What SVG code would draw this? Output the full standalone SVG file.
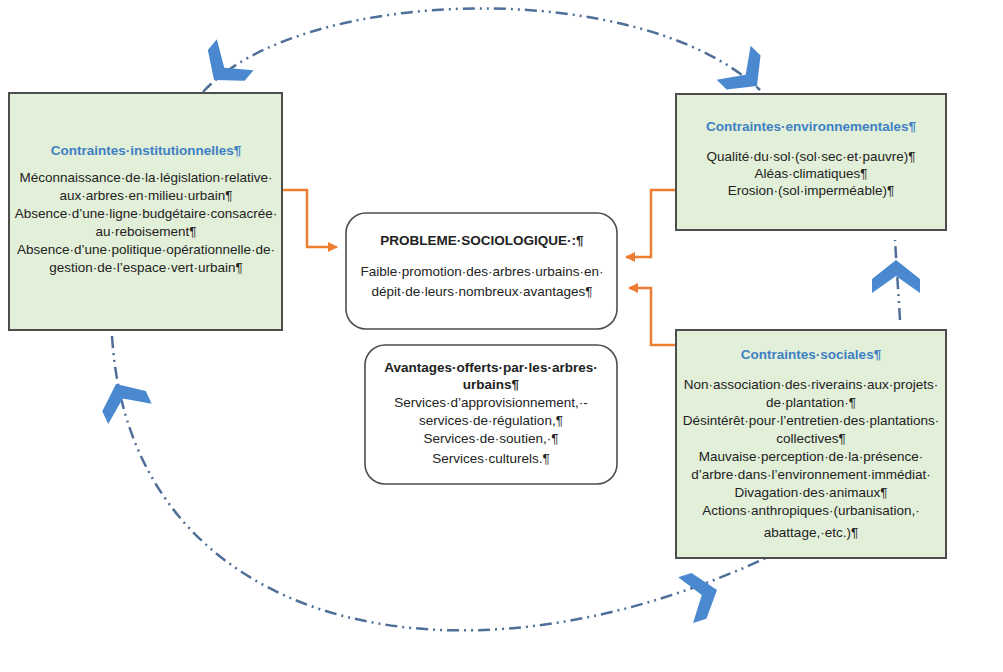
<svg xmlns="http://www.w3.org/2000/svg" width="1003" height="672" viewBox="0 0 1003 672">
<defs>
<style>
.box{fill:#e2efd9;stroke:#4d4d4d;stroke-width:2}
.rbox{fill:#fff;stroke:#4d4d4d;stroke-width:1.6}
text{font-family:"Liberation Sans",Arial,sans-serif;font-size:13.5px;fill:#222;text-anchor:middle}
.t{fill:#3f7fc4;font-weight:bold}
.b{font-weight:bold}
.or{fill:none;stroke:#ed7d31;stroke-width:2.5}
.dd{fill:none;stroke:#4f6f98;stroke-width:2.5;stroke-dasharray:12 5 2 5 2 5}
.chev{fill:#4a89d0}
</style>
<marker id="oa" viewBox="0 0 10 10" refX="9" refY="5" markerWidth="4" markerHeight="4" orient="auto">
<path d="M0,0 L10,5 L0,10 z" fill="#ed7d31"/>
</marker>
<polygon id="chv" points="0,0 -19,-24 -33,-24 -16,0 -33,24 -19,24"/>
</defs>

<g id="connectors">
<path class="or" d="M282,190 H307 V247 H337" marker-end="url(#oa)"/>
<path class="or" d="M676,190 H651 V257 H626" marker-end="url(#oa)"/>
<path class="or" d="M676,345 H651 V288 H629" marker-end="url(#oa)"/>
<path class="dd" d="M203,92 C300,-14 640,-24 760,90"/>
<path class="dd" d="M112,336 C130,628 450,705 768,557"/>
<path class="dd" d="M900,320 L895,240"/>
<use href="#chv" class="chev" transform="translate(214,80) rotate(130)"/>
<use href="#chv" class="chev" transform="translate(757,86) rotate(45)"/>
<use href="#chv" class="chev" transform="translate(896,260) rotate(-90)"/>
<use href="#chv" class="chev" transform="translate(116,384) rotate(-115)"/>
<use href="#chv" class="chev" transform="translate(717,590) rotate(-18)"/>
</g>

<g id="inst">
<rect class="box" x="9" y="93" width="273" height="237"/>
<text class="t" x="146" y="155">Contraintes·institutionnelles¶</text>
<text x="146" y="182">Méconnaissance·de·la·législation·relative·</text>
<text x="146" y="200">aux·arbres·en·milieu·urbain¶</text>
<text x="146" y="218">Absence·d’une·ligne·budgétaire·consacrée·</text>
<text x="146" y="236">au·reboisement¶</text>
<text x="146" y="254">Absence·d’une·politique·opérationnelle·de·</text>
<text x="146" y="272">gestion·de·l’espace·vert·urbain¶</text>
</g>

<g id="env">
<rect class="box" x="676" y="94" width="270" height="136"/>
<text class="t" x="811" y="131">Contraintes·environnementales¶</text>
<text x="811" y="161">Qualité·du·sol·(sol·sec·et·pauvre)¶</text>
<text x="811" y="178">Aléas·climatiques¶</text>
<text x="811" y="195">Erosion·(sol·imperméable)¶</text>
</g>

<g id="soc">
<rect class="box" x="676" y="330" width="270" height="228"/>
<text class="t" x="811" y="359">Contraintes·sociales¶</text>
<text x="811" y="389">Non·association·des·riverains·aux·projets·</text>
<text x="811" y="407">de·plantation·¶</text>
<text x="811" y="425">Désintérêt·pour·l’entretien·des·plantations·</text>
<text x="811" y="443">collectives¶</text>
<text x="811" y="461">Mauvaise·perception·de·la·présence·</text>
<text x="811" y="479">d’arbre·dans·l’environnement·immédiat·</text>
<text x="811" y="497">Divagation·des·animaux¶</text>
<text x="811" y="515">Actions·anthropiques·(urbanisation,·</text>
<text x="811" y="537">abattage,·etc.)¶</text>
</g>

<g id="probleme">
<rect class="rbox" x="346" y="213" width="271" height="116" rx="20"/>
<text class="b" x="482" y="245">PROBLEME·SOCIOLOGIQUE·:¶</text>
<text x="482" y="276">Faible·promotion·des·arbres·urbains·en·</text>
<text x="482" y="296">dépit·de·leurs·nombreux·avantages¶</text>
</g>

<g id="avantages">
<rect class="rbox" x="365" y="345" width="252" height="139" rx="20"/>
<text class="b" x="491" y="372">Avantages·offerts·par·les·arbres·</text>
<text class="b" x="491" y="389">urbains¶</text>
<text x="491" y="407">Services·d’approvisionnement,·-</text>
<text x="491" y="425">services·de·régulation,¶</text>
<text x="491" y="443">Services·de·soutien,·¶</text>
<text x="491" y="463">Services·culturels.¶</text>
</g>
</svg>
